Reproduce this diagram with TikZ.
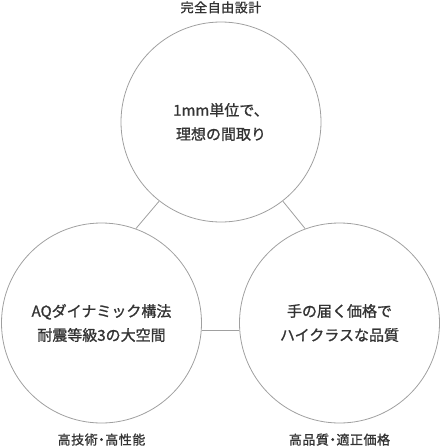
\documentclass[tikz,border=0pt]{standalone}
\usepackage{fontspec}
\newfontfamily\jp{Noto Sans CJK JP}[FakeBold=1.2]
\newfontfamily\jpcap{Noto Sans CJK JP}[FakeBold=1.2, RawFeature=+palt, LetterSpace=4]
\usetikzlibrary{positioning}
\definecolor{ringgray}{HTML}{A0A0A0}
\definecolor{inkgray}{HTML}{333333}

\begin{document}
\begin{tikzpicture}[
  x=1pt, y=-1pt,
  ring/.style={circle, draw=ringgray, line width=0.8pt, minimum size=200pt,
    inner sep=0pt, align=center, text=inkgray,
    font={\jp\fontsize{15}{24}\selectfont}},
  caption/.style={inner sep=0pt, text=inkgray, font={\jpcap\fontsize{13}{15}\selectfont}},
  link/.style={draw=ringgray, line width=0.8pt},
]
\useasboundingbox (0,0) rectangle (441,448);
\node[ring] (design) at (221,122) {1mm単位で、\\理想の間取り};
\node[ring] (tech) at (101.5,323) {AQダイナミック構法\\耐震等級3の大空間};
\node[ring] (price) at (339.5,323) {手の届く価格で\\ハイクラスな品質};
\node[caption, above=8pt of design] (designcap) {完全自由設計};
\node[caption, below=10pt of tech] (techcap) {高技術・高性能};
\node[caption, below=10pt of price] (pricecap) {高品質・適正価格};
\draw[link] (design.232) -- (tech.70);
\draw[link] (design.308) -- (price.110);
\draw[link] (tech.-4) -- (price.184);
\end{tikzpicture}
\end{document}
